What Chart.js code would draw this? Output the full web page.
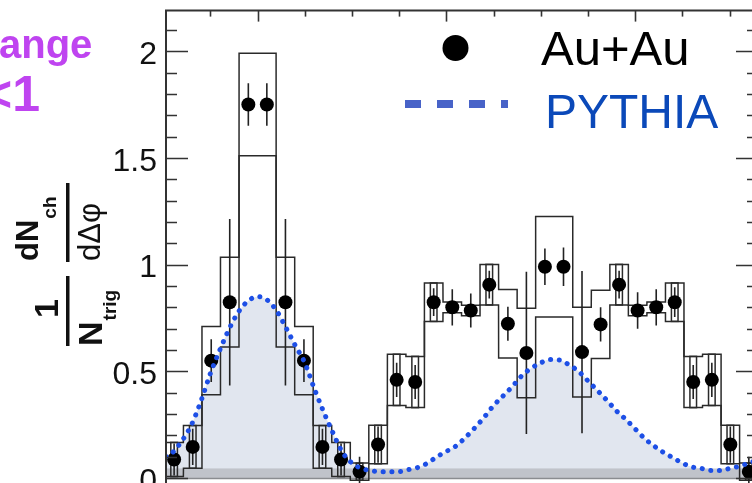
<!DOCTYPE html>
<html>
<head>
<meta charset="utf-8">
<script src="https://cdn.jsdelivr.net/npm/chart.js@4.4.1/dist/chart.umd.min.js"></script>
<style>
  html, body { margin: 0; padding: 0; background: #fff; overflow: hidden; }
  #wrap { width: 770px; height: 500px; }
</style>
</head>
<body>
<div id="wrap"><canvas id="c" width="770" height="500"></canvas></div>
<script>
// Δφ bin centres (rad), width π/16
const binPhi = [-0.884, -0.687, -0.491, -0.295, -0.098, 0.098, 0.295, 0.491, 0.687, 0.884,
                1.080, 1.276, 1.473, 1.669, 1.865, 2.062, 2.258, 2.454, 2.651, 2.847,
                3.043, 3.240, 3.436, 3.633, 3.829, 4.025, 4.222, 4.418, 4.614, 4.811,
                5.007, 5.203];
const binWidth = 0.196;

// Au+Au per-trigger yield
const auauYield = [0.087, 0.146, 0.55, 0.824, 1.75, 1.75, 0.824, 0.55, 0.146, 0.087,
                   0.03, 0.157, 0.46, 0.45, 0.824, 0.80, 0.785, 0.906, 0.723, 0.586,
                   0.99, 0.99, 0.59, 0.72, 0.906, 0.785, 0.80, 0.824, 0.45, 0.46,
                   0.157, 0.03];
// statistical errors
const auauStat = [0.075, 0.085, 0.10, 0.39, 0.10, 0.10, 0.39, 0.10, 0.085, 0.075,
                  0.07, 0.085, 0.08, 0.08, 0.065, 0.085, 0.08, 0.065, 0.08, 0.38,
                  0.085, 0.09, 0.38, 0.08, 0.065, 0.085, 0.085, 0.07, 0.08, 0.08,
                  0.085, 0.07];
// systematic errors: upper/lower envelope drawn as step outlines
const auauSys = [0.08, 0.10, 0.16, 0.21, 0.24, 0.24, 0.21, 0.16, 0.10, 0.08,
                 0.04, 0.09, 0.12, 0.12, 0.09, 0.025, 0.025, 0.095, 0.16, 0.21,
                 0.235, 0.235, 0.21, 0.16, 0.095, 0.025, 0.025, 0.09, 0.12, 0.12,
                 0.09, 0.04];
// second systematic component (narrow boxes)
const auauSys2 = [0.08, 0.10, 0, 0, 0, 0, 0, 0, 0.10, 0.08,
                  0.04, 0.09, 0.12, 0.12, 0.09, 0, 0, 0.095, 0, 0,
                  0, 0, 0, 0, 0.095, 0, 0, 0.09, 0.12, 0.12,
                  0.09, 0.04];
const narrowWidth = 0.07;

// PYTHIA reference curve
const pythiaPhi = [-0.97, -0.9, -0.8, -0.7, -0.6, -0.5, -0.4, -0.3, -0.2, -0.1,
                   0, 0.1, 0.2, 0.3, 0.4, 0.5, 0.6, 0.7, 0.8, 0.9,
                   1.0, 1.1, 1.2, 1.3, 1.4, 1.5, 1.6, 1.7, 1.8, 1.9,
                   2.0, 2.1, 2.2, 2.3, 2.4, 2.5, 2.6, 2.7, 2.8, 2.9,
                   3.0, 3.1, 3.2, 3.3, 3.4, 3.5, 3.6, 3.7, 3.8, 3.9,
                   4.0, 4.1, 4.2, 4.3, 4.4, 4.5, 4.6, 4.7, 4.8, 4.9,
                   5.0, 5.1, 5.2, 5.3];
const pythiaVal = [0.10, 0.12, 0.175, 0.25, 0.36, 0.49, 0.60, 0.70, 0.78, 0.83,
                   0.85, 0.835, 0.785, 0.705, 0.62, 0.54, 0.42, 0.31, 0.21, 0.12,
                   0.07, 0.045, 0.035, 0.03, 0.03, 0.03, 0.04, 0.05, 0.07, 0.10,
                   0.125, 0.15, 0.19, 0.235, 0.285, 0.34, 0.385, 0.43, 0.48, 0.515,
                   0.54, 0.555, 0.553, 0.53, 0.50, 0.455, 0.41, 0.364, 0.315, 0.275,
                   0.23, 0.185, 0.15, 0.12, 0.095, 0.07, 0.052, 0.045, 0.035, 0.035,
                   0.045, 0.055, 0.07, 0.085];

// axis ranges and ticks
const xRange = [-0.97, 5.3];
const yRange = [-0.04, 2.19];
const yMajorTicks = [0, 0.5, 1, 1.5, 2];
const yMinorStep = 0.1;
const xMajorTicks = [0, 2, 4];
const xMinorStep = 0.5;
const zeroBand = [0, 0.045];

const frameColor = '#333';

function range(a, b, step) {
  const out = [];
  for (let v = a; v <= b + 1e-9; v += step) out.push(Math.round(v * 1000) / 1000);
  return out;
}

// step outline through per-bin levels
function stepPath(ctx, x, y, levels) {
  ctx.beginPath();
  binPhi.forEach((phi, i) => {
    const xl = x.getPixelForValue(phi - binWidth / 2);
    const xr = x.getPixelForValue(phi + binWidth / 2);
    const py = y.getPixelForValue(levels[i]);
    if (i === 0) ctx.moveTo(xl, py); else ctx.lineTo(xl, py);
    ctx.lineTo(xr, py);
  });
  ctx.stroke();
}

const decor = {
  id: 'decor',
  beforeDatasetsDraw(chart) {
    const { ctx, chartArea: ca, scales: { x, y } } = chart;
    ctx.save();
    ctx.beginPath();
    ctx.rect(ca.left, ca.top, ca.right - ca.left, ca.bottom - ca.top);
    ctx.clip();
    // grey band at the zero level
    ctx.fillStyle = 'rgba(180,183,190,0.75)';
    const b0 = y.getPixelForValue(zeroBand[0]), b1 = y.getPixelForValue(zeroBand[1]);
    ctx.fillRect(ca.left, b1, ca.right - ca.left, b0 - b1);
    ctx.strokeStyle = '#8a8c90';
    ctx.lineWidth = 1.5;
    ctx.beginPath();
    ctx.moveTo(ca.left, b0 + 0.5); ctx.lineTo(ca.right, b0 + 0.5);
    ctx.stroke();

    // systematic envelopes (upper and lower step outlines)
    ctx.strokeStyle = '#2a2a2a';
    ctx.lineWidth = 1.5;
    ctx.lineJoin = 'miter';
    stepPath(ctx, x, y, auauYield.map((v, i) => v + auauSys[i]));
    stepPath(ctx, x, y, auauYield.map((v, i) => v - auauSys[i]));
    // narrow boxes
    binPhi.forEach((phi, i) => {
      const v = auauYield[i];
      const s2 = auauSys2[i];
      if (s2 > 0) {
        const nl = x.getPixelForValue(phi - narrowWidth / 2);
        const nr = x.getPixelForValue(phi + narrowWidth / 2);
        const nt = y.getPixelForValue(v + s2), nb = y.getPixelForValue(v - s2);
        ctx.strokeRect(nl, nt, nr - nl, nb - nt);
      }
    });
    // statistical error bars
    ctx.strokeStyle = '#222';
    ctx.lineWidth = 1.6;
    binPhi.forEach((phi, i) => {
      const px = x.getPixelForValue(phi);
      ctx.beginPath();
      ctx.moveTo(px, y.getPixelForValue(auauYield[i] + auauStat[i]));
      ctx.lineTo(px, y.getPixelForValue(auauYield[i] - auauStat[i]));
      ctx.stroke();
    });
    ctx.restore();
  },
  afterDatasetsDraw(chart) {
    const { ctx, chartArea: ca, scales: { x, y } } = chart;
    ctx.save();
    ctx.strokeStyle = frameColor;
    // frame
    ctx.lineWidth = 2;
    ctx.beginPath();
    ctx.moveTo(ca.left, ca.bottom); ctx.lineTo(ca.left, ca.top);
    ctx.lineTo(ca.right, ca.top); ctx.lineTo(ca.right, ca.bottom);
    ctx.stroke();
    // y ticks (inward, both sides)
    ctx.lineWidth = 1.6;
    range(0, yRange[1], yMinorStep).forEach(v => {
      const major = yMajorTicks.some(m => Math.abs(m - v) < 1e-6);
      const len = major ? 22 : 11;
      const py = Math.round(y.getPixelForValue(v)) + 0.5;
      ctx.beginPath();
      ctx.moveTo(ca.left, py); ctx.lineTo(ca.left + len, py);
      ctx.moveTo(ca.right, py); ctx.lineTo(ca.right - len, py);
      ctx.stroke();
    });
    // x ticks on top edge
    range(-0.5, xRange[1], xMinorStep).forEach(v => {
      const major = xMajorTicks.some(m => Math.abs(m - v) < 1e-6);
      const len = major ? 11 : 6;
      const px = Math.round(x.getPixelForValue(v)) + 0.5;
      ctx.beginPath();
      ctx.moveTo(px, ca.top); ctx.lineTo(px, ca.top + len);
      ctx.stroke();
    });
    ctx.restore();
  },
  afterDraw(chart) {
    const { ctx } = chart;
    ctx.save();
    // legend
    ctx.fillStyle = '#000';
    ctx.beginPath();
    ctx.arc(455.5, 48, 13, 0, Math.PI * 2);
    ctx.fill();
    ctx.font = '49px "Liberation Sans", Arial, sans-serif';
    ctx.textBaseline = 'alphabetic';
    ctx.fillText('Au+Au', 541, 65);
    ctx.fillStyle = '#0b49b9';
    ctx.font = '48px "Liberation Sans", Arial, sans-serif';
    ctx.fillText('PYTHIA', 545, 128);
    ctx.strokeStyle = '#4863c8';
    ctx.lineWidth = 8;
    ctx.setLineDash([16, 16]);
    ctx.beginPath();
    ctx.moveTo(405, 104); ctx.lineTo(508, 104);
    ctx.stroke();
    ctx.setLineDash([]);

    // title fragment (purple)
    ctx.fillStyle = '#bf44f0';
    ctx.font = 'bold 40px "Liberation Sans", Arial, sans-serif';
    ctx.fillText('ange', -1, 58);
    ctx.textAlign = 'right';
    ctx.font = 'bold 50px "Liberation Sans", Arial, sans-serif';
    ctx.fillText('<1', 40, 111);
    ctx.textAlign = 'left';

    // y-axis title: 1/N_trig dN_ch/dΔφ (rotated)
    ctx.fillStyle = '#111';
    const rtext = (txt, xBase, yStart, font) => {
      ctx.save();
      ctx.translate(xBase, yStart);
      ctx.rotate(-Math.PI / 2);
      ctx.font = font;
      ctx.fillText(txt, 0, 0);
      const w = ctx.measureText(txt).width;
      ctx.restore();
      return w;
    };
    const fB = 'bold 31px "Liberation Sans", Arial, sans-serif';
    const fS = 'bold 19px "Liberation Sans", Arial, sans-serif';
    const fN = '31px "Liberation Sans", Arial, sans-serif';
    // 1 / N_trig
    rtext('1', 58, 318, 'bold 34px "Liberation Sans", Arial, sans-serif');
    let w = rtext('N', 102, 346, 'bold 34px "Liberation Sans", Arial, sans-serif');
    rtext('trig', 116, 346 - w - 1, fS);
    ctx.fillRect(66, 276, 3.5, 70);
    // dN_ch / dΔφ
    w = rtext('dN', 38, 261, fB);
    rtext('ch', 56, 261 - w - 1, fS);
    ctx.fillRect(66, 183, 3.5, 79);
    rtext('dΔφ', 100, 261, fN);
    ctx.restore();
  }
};

const pythiaPts = pythiaPhi.map((p, i) => ({ x: p, y: pythiaVal[i] }));
const auauPts = binPhi.map((p, i) => ({ x: p, y: auauYield[i] }));

new Chart(document.getElementById('c'), {
  type: 'scatter',
  data: {
    datasets: [
      {
        type: 'line', label: 'PYTHIA fill', data: pythiaPts, order: 2,
        fill: 'origin', backgroundColor: '#e1e6ef', borderWidth: 0,
        pointRadius: 0, cubicInterpolationMode: 'monotone'
      },
      {
        label: 'Au+Au', data: auauPts, order: 1,
        pointRadius: 7, backgroundColor: '#000', borderWidth: 0
      },
      {
        type: 'line', label: 'PYTHIA', data: pythiaPts, order: 0,
        fill: false, borderColor: '#1d4fe6', borderWidth: 5,
        borderDash: [0.1, 8.6], borderCapStyle: 'round',
        pointRadius: 0, cubicInterpolationMode: 'monotone'
      }
    ]
  },
  options: {
    responsive: false,
    animation: false,
    events: [],
    layout: { padding: { left: 0, top: 9, right: 12, bottom: 13.4 } },
    plugins: {
      legend: { display: false },
      tooltip: { enabled: false },
      filler: { drawTime: 'beforeDatasetsDraw' }
    },
    scales: {
      x: {
        type: 'linear', min: xRange[0], max: xRange[1], display: false
      },
      y: {
        type: 'linear', min: yRange[0], max: yRange[1],
        grid: { display: false, drawTicks: false },
        border: { display: false },
        afterFit(scale) { scale.width = 166; },
        afterBuildTicks(scale) { scale.ticks = yMajorTicks.map(v => ({ value: v })); },
        ticks: {
          padding: 9,
          labelOffset: 4,
          color: '#111',
          font: { family: '"Liberation Sans", Arial, sans-serif', size: 32, lineHeight: 0.1 },
          callback: v => String(v)
        }
      }
    }
  },
  plugins: [decor]
});
</script>
</body>
</html>
